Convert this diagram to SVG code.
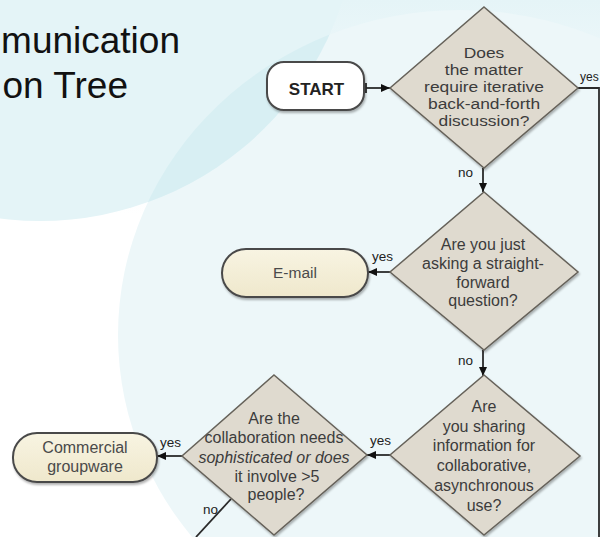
<svg xmlns="http://www.w3.org/2000/svg" width="600" height="537" viewBox="0 0 600 537">
  <defs>
    <linearGradient id="bg" x1="0" y1="0" x2="0" y2="1" gradientUnits="objectBoundingBox">
      <stop offset="0" stop-color="#e5f4f7"/>
      <stop offset="0.4" stop-color="#ffffff"/>
      <stop offset="1" stop-color="#ffffff"/>
    </linearGradient>
    <linearGradient id="cream" x1="0" y1="0" x2="0" y2="1">
      <stop offset="0" stop-color="#f8f4e2"/>
      <stop offset="1" stop-color="#efe8cc"/>
    </linearGradient>
    <clipPath id="bigclip">
      <ellipse cx="460" cy="335" rx="342" ry="325"/>
    </clipPath>
    <marker id="arr" viewBox="0 0 9 8" refX="9" refY="4" markerWidth="9" markerHeight="8" markerUnits="userSpaceOnUse" orient="auto">
      <path d="M0,0 L9,4 L0,8 z" fill="#111"/>
    </marker>
    <filter id="sh" x="-10%" y="-10%" width="125%" height="130%">
      <feDropShadow dx="1" dy="2" stdDeviation="0.8" flood-color="#000" flood-opacity="0.3"/>
    </filter>
  </defs>
  <style>
    .title { font-family: "Liberation Sans", Arial, sans-serif; font-size: 37px; fill: #111; }
    .dia { fill: #dfdacf; stroke: #66625a; stroke-width: 1.5; }
    .dt { font-family: "Liberation Sans", Arial, sans-serif; font-size: 16px; fill: #3c3c3c; text-anchor: middle; }
    .dt1 { font-family: "Liberation Sans", Arial, sans-serif; font-size: 14.5px; fill: #3c3c3c; text-anchor: middle; }
    .term { fill: url(#cream); stroke: #4a4a4a; stroke-width: 2; }
    .tt { font-family: "Liberation Sans", Arial, sans-serif; font-size: 16px; fill: #4a4a4a; text-anchor: middle; }
    .conn { fill: none; stroke: #2a2a2a; stroke-width: 1.8; }
    .lbl { font-family: "Liberation Sans", Arial, sans-serif; font-size: 13.5px; fill: #222; }
  </style>

  <!-- background -->
  <rect x="0" y="0" width="600" height="537" fill="url(#bg)"/>
  <ellipse cx="460" cy="335" rx="342" ry="325" fill="#edf7f9"/>
  <circle cx="40" cy="-97" r="318" fill="#e4f4f7"/>
  <circle cx="40" cy="-97" r="318" fill="#d8eff3" clip-path="url(#bigclip)"/>

  <!-- title -->
  <g id="title">
    <text class="title" x="180" y="53" text-anchor="end">munication</text>
    <text class="title" x="128" y="98" text-anchor="end">on Tree</text>
  </g>

  <!-- connectors -->
  <g id="connectors">
    <path class="conn" d="M366,83 V93"/>
    <path class="conn" d="M366,88 H390" marker-end="url(#arr)"/>
    <path class="conn" d="M483,168 V192" marker-end="url(#arr)"/>
    <path class="conn" d="M578,88 H599 V537" stroke="#555" stroke-width="1.5"/>
    <path class="conn" d="M390,272 H368" marker-end="url(#arr)"/>
    <path class="conn" d="M483,350 V376" marker-end="url(#arr)"/>
    <path class="conn" d="M390,455 H367" marker-end="url(#arr)"/>
    <path class="conn" d="M182,456 H157" marker-end="url(#arr)"/>
    <path class="conn" d="M231,499 L196,537" stroke="#444" stroke-width="1.5"/>
    <text class="lbl" x="458" y="177">no</text>
    <text class="lbl" x="580" y="81" style="font-size:12px">yes</text>
    <text class="lbl" x="372" y="261">yes</text>
    <text class="lbl" x="458" y="365">no</text>
    <text class="lbl" x="370" y="445">yes</text>
    <text class="lbl" x="160" y="447">yes</text>
    <text class="lbl" x="203" y="514">no</text>
  </g>

  <!-- START -->
  <g id="start">
    <rect x="267" y="62" width="97" height="48" rx="17" ry="17" fill="#ffffff" stroke="#4a4a4a" stroke-width="2" filter="url(#sh)"/>
    <text x="316.5" y="95" text-anchor="middle" font-family="Liberation Sans, Arial, sans-serif" font-size="17" font-weight="bold" fill="#222">START</text>
  </g>

  <!-- Diamond 1 -->
  <g id="d1">
    <polygon class="dia" points="484,7 578,88 484,168 390,88" filter="url(#sh)"/>
    <g transform="translate(484,0) scale(1.2,1)">
      <text class="dt1" x="0" y="58">Does</text>
      <text class="dt1" x="0" y="75">the matter</text>
      <text class="dt1" x="0" y="92">require iterative</text>
      <text class="dt1" x="0" y="109">back-and-forth</text>
      <text class="dt1" x="0" y="126">discussion?</text>
    </g>
  </g>

  <!-- Diamond 2 -->
  <g id="d2">
    <polygon class="dia" points="484,192 578,272 484,350 390,272" filter="url(#sh)"/>
    <text class="dt" x="483" y="250">Are you just</text>
    <text class="dt" x="483" y="268.5">asking a straight-</text>
    <text class="dt" x="483" y="287.5">forward</text>
    <text class="dt" x="483" y="306">question?</text>
  </g>

  <!-- E-mail -->
  <g id="email">
    <rect class="term" x="222" y="249" width="146" height="48" rx="24" ry="24" filter="url(#sh)"/>
    <text class="tt" x="295" y="278" style="font-size:15.5px">E-mail</text>
  </g>

  <!-- Diamond 3 -->
  <g id="d3">
    <polygon class="dia" points="484,375 580,456 484,535 390,455" filter="url(#sh)"/>
    <text class="dt" x="484" y="412">Are</text>
    <text class="dt" x="484" y="431.7">you sharing</text>
    <text class="dt" x="484" y="451.4">information for</text>
    <text class="dt" x="484" y="471.1">collaborative,</text>
    <text class="dt" x="484" y="490.8">asynchronous</text>
    <text class="dt" x="484" y="510.5">use?</text>
  </g>

  <!-- Diamond 4 -->
  <g id="d4">
    <polygon class="dia" points="274,375 367,455 274,535 182,456" filter="url(#sh)"/>
    <text class="dt" x="274" y="424">Are the</text>
    <text class="dt" x="274" y="443">collaboration needs</text>
    <text class="dt" x="274" y="462.5" font-style="italic">sophisticated or does</text>
    <text class="dt" x="277" y="481.5">it involve &gt;5</text>
    <text class="dt" x="276" y="500">people?</text>
  </g>

  <!-- Commercial groupware -->
  <g id="groupware">
    <rect class="term" x="13" y="433" width="144" height="49" rx="24" ry="24" filter="url(#sh)"/>
    <text class="tt" x="85" y="453">Commercial</text>
    <text class="tt" x="85" y="472">groupware</text>
  </g>
</svg>
